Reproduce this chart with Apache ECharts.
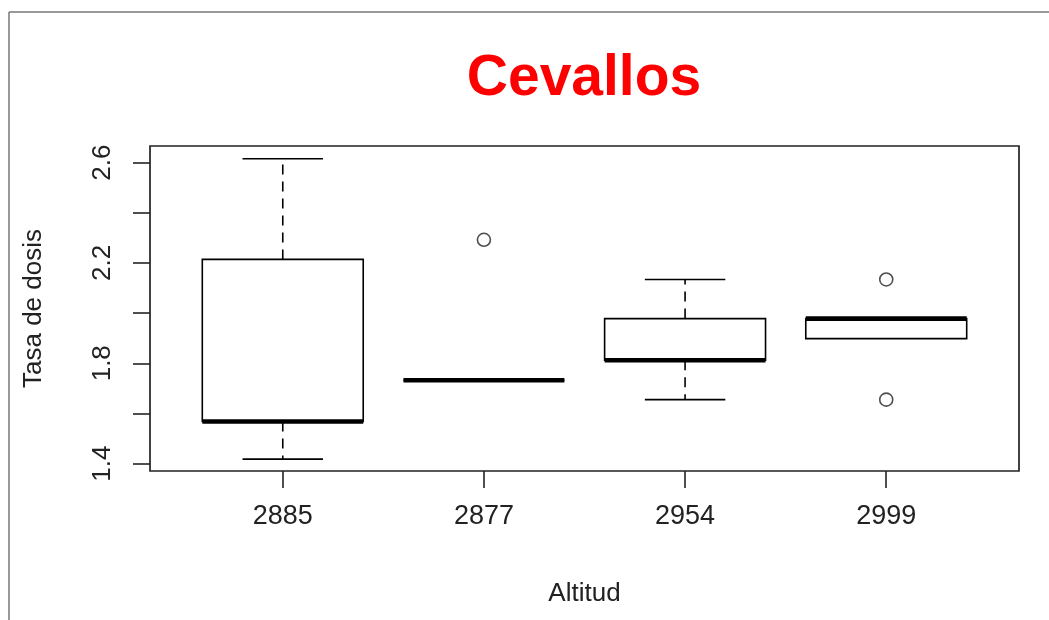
<!DOCTYPE html>
<html>
<head>
<meta charset="utf-8">
<script src="https://cdn.jsdelivr.net/npm/echarts@6/dist/echarts.min.js"></script>
<style>
html,body{margin:0;padding:0;background:#fff;}
#chart{width:1049px;height:620px;}
</style>
</head>
<body>
<div id="chart"></div>
<script>
// Data
const categories = ['2885', '2877', '2954', '2999'];
const whiskerLow  = [1.418, 1.732, 1.655, 1.898];
const q1          = [1.568, 1.732, 1.812, 1.898];
const median      = [1.568, 1.732, 1.812, 1.978];
const q3          = [2.214, 1.732, 1.978, 1.978];
const whiskerHigh = [2.615, 1.732, 2.134, 1.978];
const outlierCategory = ['2877', '2999', '2999'];
const outlierValue    = [2.292, 2.134, 1.655];
const yTicks  = [1.4, 1.6, 1.8, 2.0, 2.2, 2.4, 2.6];
const yLabels = [1.4, 1.8, 2.2, 2.6];

const FONT = 'Liberation Sans, Arial, sans-serif';
const boxData = categories.map((c, i) => [i + 1, whiskerLow[i], q1[i], median[i], q3[i], whiskerHigh[i]]);
const outlierData = outlierCategory.map((c, i) => [categories.indexOf(c) + 1, outlierValue[i]]);

const chart = echarts.init(document.getElementById('chart'), null, {renderer: 'canvas'});

function renderBox(params, api) {
  const x = api.value(0);
  const pLow = api.coord([x, api.value(1)]);
  const pQ1 = api.coord([x, api.value(2)]);
  const pMed = api.coord([x, api.value(3)]);
  const pQ3 = api.coord([x, api.value(4)]);
  const pHigh = api.coord([x, api.value(5)]);
  const boxW = api.size([0.8, 0])[0];
  const capW = boxW / 2;
  const cx = pMed[0];
  const lineStyle = {stroke: '#000', lineWidth: 1.6, fill: null};
  const dashStyle = {stroke: '#000', lineWidth: 1.6, lineDash: [10, 7]};
  const children = [];
  if (pHigh[1] < pQ3[1]) {
    children.push({type: 'line', shape: {x1: cx, y1: pQ3[1], x2: cx, y2: pHigh[1]}, style: dashStyle});
    children.push({type: 'line', shape: {x1: cx - capW / 2, y1: pHigh[1], x2: cx + capW / 2, y2: pHigh[1]}, style: lineStyle});
  }
  if (pLow[1] > pQ1[1]) {
    children.push({type: 'line', shape: {x1: cx, y1: pQ1[1], x2: cx, y2: pLow[1]}, style: dashStyle});
    children.push({type: 'line', shape: {x1: cx - capW / 2, y1: pLow[1], x2: cx + capW / 2, y2: pLow[1]}, style: lineStyle});
  }
  children.push({type: 'rect', shape: {x: cx - boxW / 2, y: pQ3[1], width: boxW, height: pQ1[1] - pQ3[1]},
    style: {stroke: '#000', lineWidth: 1.6, fill: '#fff'}});
  children.push({type: 'line', shape: {x1: cx - boxW / 2, y1: pMed[1], x2: cx + boxW / 2, y2: pMed[1]},
    style: {stroke: '#000', lineWidth: 4.6}});
  return {type: 'group', children: children};
}

const option = {
  backgroundColor: '#fff',
  animation: false,
  title: {
    text: 'Cevallos',
    left: 579, top: 46, textAlign: 'center',
    textStyle: {color: '#ff0000', fontSize: 57, fontWeight: 'bold', fontFamily: FONT}
  },
  grid: {
    left: 150, right: 30, top: 146, bottom: 149,
    show: true, borderColor: '#222', borderWidth: 1.7, backgroundColor: 'transparent'
  },
  xAxis: {
    type: 'value', min: 0.34, max: 4.66,
    name: 'Altitud', nameLocation: 'middle', nameGap: 110,
    nameTextStyle: {fontSize: 26, color: '#222', fontFamily: FONT},
    splitLine: {show: false},
    axisLine: {show: false},
    axisTick: {show: true, length: 17, lineStyle: {color: '#222', width: 1.6}, customValues: [1, 2, 3, 4]},
    axisLabel: {
      customValues: [1, 2, 3, 4], margin: 32, fontSize: 27, color: '#222', fontFamily: FONT,
      formatter: v => categories[Math.round(v) - 1] || ''
    }
  },
  yAxis: {
    type: 'value', min: 1.3705, max: 2.666,
    name: 'Tasa de dosis', nameLocation: 'middle', nameGap: 103, nameRotate: 90,
    nameTextStyle: {fontSize: 26, color: '#222', fontFamily: FONT},
    splitLine: {show: false},
    axisLine: {show: false},
    axisTick: {show: true, length: 17, lineStyle: {color: '#222', width: 1.6}, customValues: yTicks},
    axisLabel: {
      customValues: yLabels, rotate: 90, margin: 34, fontSize: 26, color: '#222', fontFamily: FONT,
      formatter: v => v.toFixed(1)
    }
  },
  graphic: [
    {type: 'line', shape: {x1: 9, y1: 12, x2: 1049, y2: 12}, style: {stroke: '#777', lineWidth: 1.5}, silent: true},
    {type: 'line', shape: {x1: 9, y1: 12, x2: 9, y2: 620}, style: {stroke: '#777', lineWidth: 1.5}, silent: true}
  ],
  series: [
    {
      type: 'custom',
      renderItem: renderBox,
      encode: {x: 0, y: [1, 2, 3, 4, 5]},
      data: boxData,
      clip: false
    },
    {
      type: 'scatter',
      data: outlierData,
      symbol: 'circle',
      symbolSize: 13,
      itemStyle: {color: '#fff', borderColor: '#222', borderWidth: 1.6}
    }
  ]
};
chart.setOption(option);
</script>
</body>
</html>
